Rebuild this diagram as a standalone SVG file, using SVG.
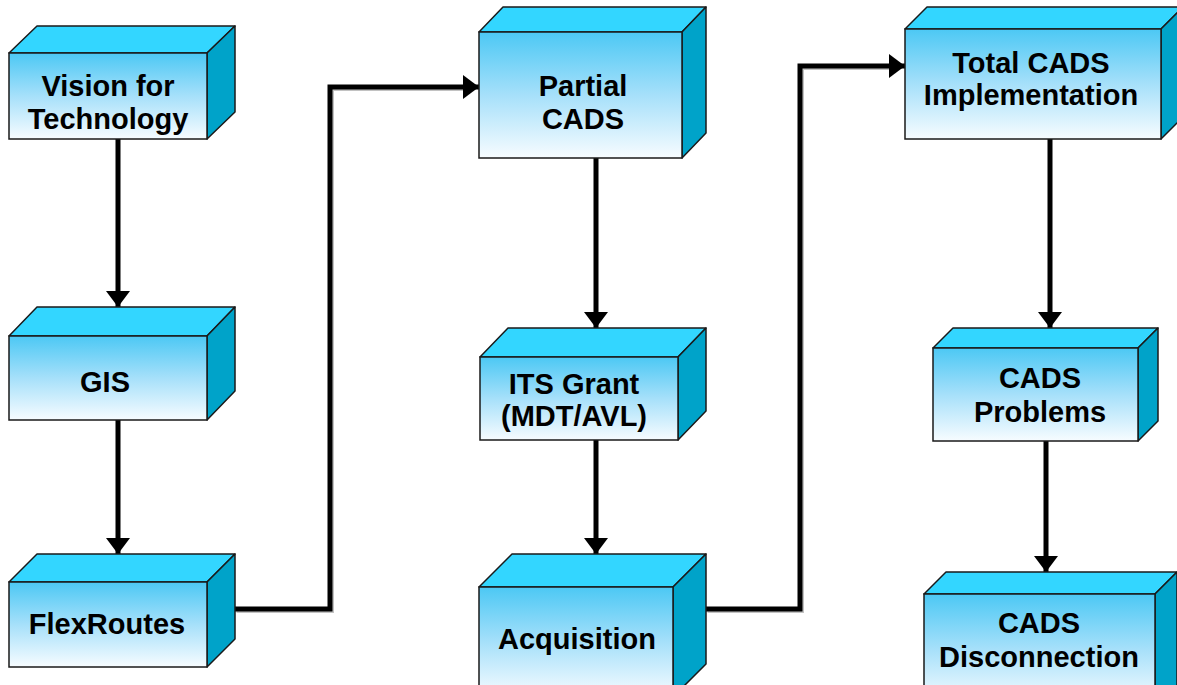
<svg xmlns="http://www.w3.org/2000/svg" width="1177" height="685" viewBox="0 0 1177 685">
  <defs>
    <linearGradient id="frontFill" x1="0" y1="0" x2="0" y2="1">
      <stop offset="0" stop-color="#4CC8F4"/>
      <stop offset="0.5" stop-color="#A6E0FA"/>
      <stop offset="1" stop-color="#F7FCFF"/>
    </linearGradient>
    <marker id="arrow" markerUnits="userSpaceOnUse" markerWidth="24" markerHeight="24" viewBox="0 0 16 24" refX="16" refY="12" orient="auto">
      <path d="M0,0 L16,12 L0,24 Z" fill="#000"/>
    </marker>
    <style>
      .front { fill: url(#frontFill); stroke: #1a1a1a; stroke-width: 1.5; }
      .top { fill: #33D6FF; stroke: #1a1a1a; stroke-width: 1.5; stroke-linejoin: round; }
      .side { fill: #00A3C9; stroke: #1a1a1a; stroke-width: 1.5; stroke-linejoin: round; }
      .label { font-family: "Liberation Sans", Arial, sans-serif; font-weight: bold; font-size: 29px; fill: #000; text-anchor: middle; }
      .wire { fill: none; stroke: #000; stroke-width: 5; marker-end: url(#arrow); }
      .shade { fill: none; stroke: #9a9a9a; stroke-width: 5; opacity: 0.6; }
    </style>
  </defs>
  <rect width="1177" height="685" fill="#fff"/>

  <!-- connectors -->
  <g id="connectors">
    <g transform="translate(1.5,1.5)">
      <path class="shade" d="M235,609 H330 V87 H463"/>
      <path class="shade" d="M706,609 H800 V66 H889"/>
    </g>
    <path class="wire" d="M118,139 V307"/>
    <path class="wire" d="M118,420 V554"/>
    <path class="wire" d="M235,609 H330 V87 H479"/>
    <path class="wire" d="M596,158 V328"/>
    <path class="wire" d="M596,440 V554"/>
    <path class="wire" d="M706,609 H800 V66 H905"/>
    <path class="wire" d="M1050,139 V328"/>
    <path class="wire" d="M1046,441 V572"/>
  </g>

  <!-- Vision for Technology -->
  <g id="vision">
    <polygon class="top" points="9,53 37,26 235,26 207,53"/>
    <polygon class="side" points="207,53 235,26 235,112 207,139"/>
    <rect class="front" x="9" y="53" width="198" height="86"/>
    <text class="label" x="108" y="96">Vision for</text>
    <text class="label" x="108" y="129">Technology</text>
  </g>

  <!-- GIS -->
  <g id="gis">
    <polygon class="top" points="9,336 37,307 235,307 207,336"/>
    <polygon class="side" points="207,336 235,307 235,391 207,420"/>
    <rect class="front" x="9" y="336" width="198" height="84"/>
    <text class="label" x="105" y="392">GIS</text>
  </g>

  <!-- FlexRoutes -->
  <g id="flexroutes">
    <polygon class="top" points="9,582 37,554 235,554 207,582"/>
    <polygon class="side" points="207,582 235,554 235,639 207,667"/>
    <rect class="front" x="9" y="582" width="198" height="85"/>
    <text class="label" x="107" y="634">FlexRoutes</text>
  </g>

  <!-- Partial CADS -->
  <g id="partial-cads">
    <polygon class="top" points="479,32 503,7 706,7 682,32"/>
    <polygon class="side" points="682,32 706,7 706,133 682,158"/>
    <rect class="front" x="479" y="32" width="203" height="126"/>
    <text class="label" x="583" y="96">Partial</text>
    <text class="label" x="583" y="129">CADS</text>
  </g>

  <!-- ITS Grant (MDT/AVL) -->
  <g id="its-grant">
    <polygon class="top" points="480,357 508,328 706,328 678,357"/>
    <polygon class="side" points="678,357 706,328 706,411 678,440"/>
    <rect class="front" x="480" y="357" width="198" height="83"/>
    <text class="label" x="574" y="394">ITS Grant</text>
    <text class="label" x="574" y="426">(MDT/AVL)</text>
  </g>

  <!-- Acquisition -->
  <g id="acquisition">
    <polygon class="top" points="479,587 512,554 706,554 673,587"/>
    <polygon class="side" points="673,587 706,554 706,664 673,697"/>
    <rect class="front" x="479" y="587" width="194" height="110"/>
    <text class="label" x="577" y="649">Acquisition</text>
  </g>

  <!-- Total CADS Implementation -->
  <g id="total-cads">
    <polygon class="top" points="905,29 927,7 1183,7 1161,29"/>
    <polygon class="side" points="1161,29 1183,7 1183,117 1161,139"/>
    <rect class="front" x="905" y="29" width="256" height="110"/>
    <text class="label" x="1031" y="73">Total CADS</text>
    <text class="label" x="1031" y="105">Implementation</text>
  </g>

  <!-- CADS Problems -->
  <g id="cads-problems">
    <polygon class="top" points="933,348 953,328 1158,328 1138,348"/>
    <polygon class="side" points="1138,348 1158,328 1158,421 1138,441"/>
    <rect class="front" x="933" y="348" width="205" height="93"/>
    <text class="label" x="1040" y="388">CADS</text>
    <text class="label" x="1040" y="422">Problems</text>
  </g>

  <!-- CADS Disconnection -->
  <g id="cads-disconnection">
    <polygon class="top" points="924,594 946,572 1177,572 1155,594"/>
    <polygon class="side" points="1155,594 1177,572 1177,685 1155,707"/>
    <rect class="front" x="924" y="594" width="231" height="110"/>
    <text class="label" x="1039" y="633">CADS</text>
    <text class="label" x="1039" y="667">Disconnection</text>
  </g>
</svg>
